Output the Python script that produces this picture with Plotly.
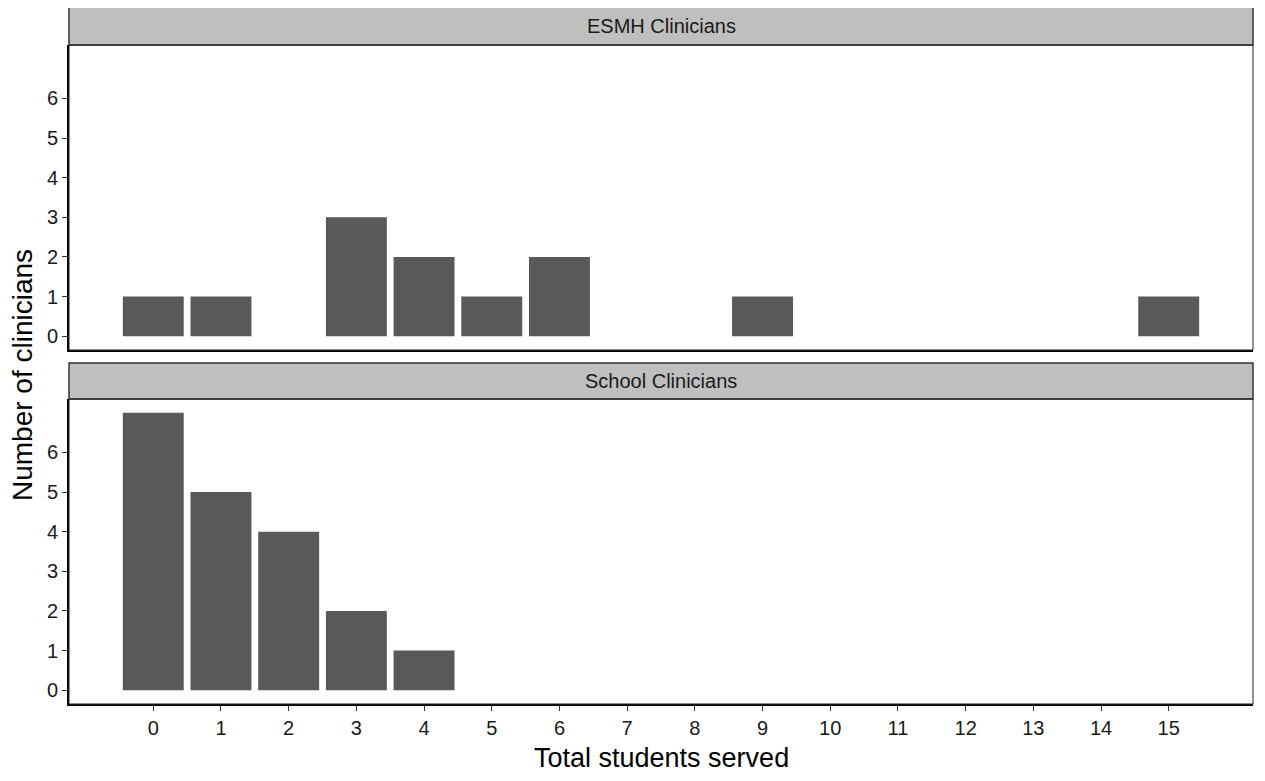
import plotly.graph_objects as go

# Data
esmh_students = [0, 1, 3, 4, 5, 6, 9, 15]
esmh_counts = [1, 1, 3, 2, 1, 2, 1, 1]
school_students = [0, 1, 2, 3, 4]
school_counts = [7, 5, 4, 2, 1]
panel_titles = ["ESMH Clinicians", "School Clinicians"]
x_ticks = list(range(0, 16))
y_ticks = list(range(0, 7))

OFF = 8  # default page body margin
W, H = 1265 - 2 * OFF, 781 - 2 * OFF
BAR = "#595959"
FONT = "Liberation Sans, Arial, sans-serif"

def py(pix):
    return 1 - (pix - OFF) / H

def px(pix):
    return (pix - OFF) / W

x0, x1 = px(69), px(1253)
top_dom = [py(350), py(45)]
bot_dom = [py(704), py(399)]
top_strip = [py(45), py(7)]
bot_strip = [py(399), py(363)]

fig = go.Figure()
fig.add_trace(go.Bar(x=esmh_students, y=esmh_counts, width=0.9,
                     marker=dict(color=BAR, line=dict(width=0)),
                     xaxis="x", yaxis="y", showlegend=False))
fig.add_trace(go.Bar(x=school_students, y=school_counts, width=0.9,
                     marker=dict(color=BAR, line=dict(width=0)),
                     xaxis="x2", yaxis="y2", showlegend=False))

xr = [-1.245, 16.245]
yr = [-0.35, 7.35]
tickfont = dict(family=FONT, size=20, color="#1a1a1a")

fig.update_layout(
    width=W, height=H,
    margin=dict(l=0, r=0, t=0, b=0),
    plot_bgcolor="white", paper_bgcolor="white",
    font=dict(family=FONT),
    xaxis=dict(domain=[x0, x1], range=xr, anchor="y", showticklabels=False,
               ticks="", showgrid=False, zeroline=False, showline=True,
               linecolor="black", linewidth=2, tickvals=x_ticks),
    yaxis=dict(domain=top_dom, range=yr, anchor="x", tickvals=y_ticks,
               ticks="outside", ticklen=5, tickcolor="#333", tickwidth=1,
               tickfont=tickfont, showgrid=False, zeroline=False,
               showline=True, linecolor="black", linewidth=2),
    xaxis2=dict(domain=[x0, x1], range=xr, anchor="y2", tickvals=x_ticks,
                ticks="outside", ticklen=5, tickcolor="#333", tickwidth=1,
                tickfont=tickfont, showgrid=False, zeroline=False,
                showline=True, linecolor="black", linewidth=2),
    yaxis2=dict(domain=bot_dom, range=yr, anchor="x2", tickvals=y_ticks,
                ticks="outside", ticklen=5, tickcolor="#333", tickwidth=1,
                tickfont=tickfont, showgrid=False, zeroline=False,
                showline=True, linecolor="black", linewidth=2),
)

shapes = []
for dom in (top_dom, bot_dom):
    shapes.append(dict(type="rect", xref="paper", yref="paper",
                       x0=x0, x1=x1, y0=dom[0], y1=dom[1],
                       line=dict(color="#222", width=1), fillcolor="rgba(0,0,0,0)",
                       layer="above"))
for st in (top_strip, bot_strip):
    shapes.append(dict(type="rect", xref="paper", yref="paper",
                       x0=x0, x1=x1, y0=st[0], y1=st[1],
                       line=dict(color="#333", width=1.5), fillcolor="#bfbfbf",
                       layer="below"))
fig.update_layout(shapes=shapes)

annotations = []
for title, st in zip(panel_titles, (top_strip, bot_strip)):
    annotations.append(dict(text=title, xref="paper", yref="paper",
                            x=(x0 + x1) / 2, y=(st[0] + st[1]) / 2,
                            showarrow=False, xanchor="center", yanchor="middle",
                            font=dict(family=FONT, size=20, color="#1a1a1a")))
annotations.append(dict(text="Total students served", xref="paper", yref="paper",
                        x=(x0 + x1) / 2, y=py(758), showarrow=False,
                        xanchor="center", yanchor="middle", borderpad=0,
                        font=dict(family=FONT, size=27, color="black")))
annotations.append(dict(text="Number of clinicians", xref="paper", yref="paper",
                        x=px(22), y=py(375), showarrow=False, textangle=-90,
                        xanchor="center", yanchor="middle",
                        font=dict(family=FONT, size=28, color="black")))
fig.update_layout(annotations=annotations)

fig.write_html("out.html")
